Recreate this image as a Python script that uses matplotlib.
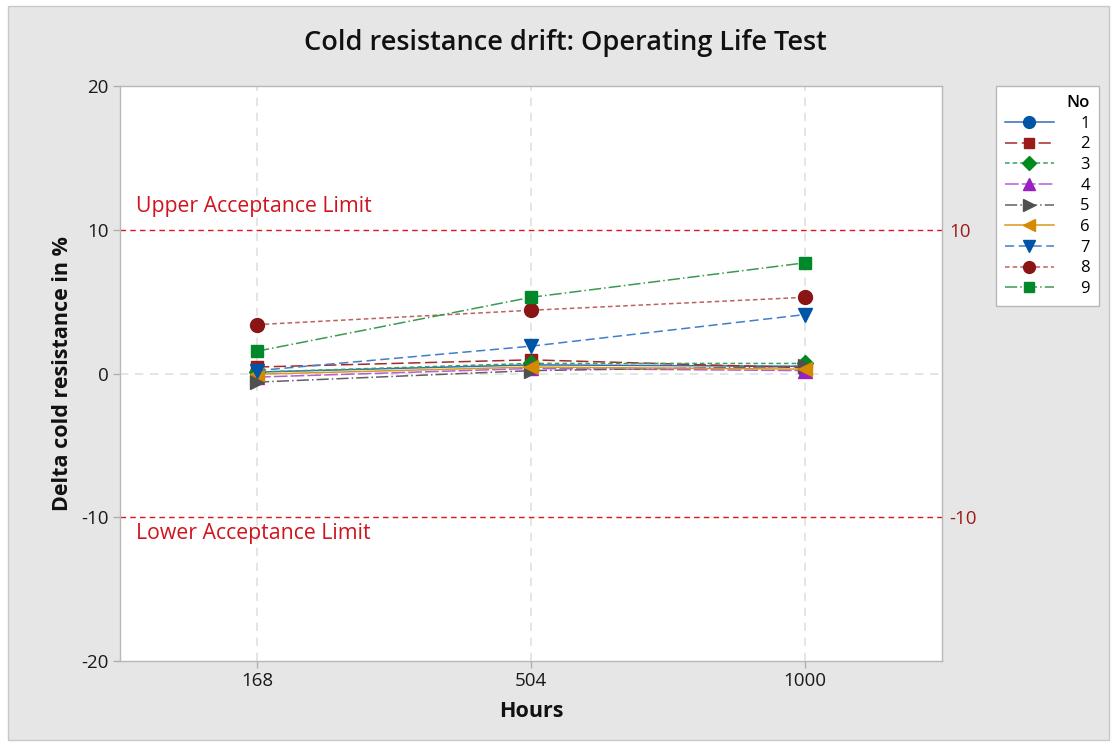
import matplotlib
matplotlib.use("Agg")
import matplotlib.pyplot as plt
from matplotlib.patches import Rectangle

plt.rcParams['font.family'] = ['Open Sans', 'DejaVu Sans']
plt.rcParams['axes.unicode_minus'] = False

hours = ["168", "504", "1000"]
series_ids = ["1", "2", "3", "4", "5", "6", "7", "8", "9"]
s1 = [0.1, 0.6, 0.5]
s2 = [0.45, 0.95, 0.4]
s3 = [0.1, 0.7, 0.7]
s4 = [-0.25, 0.35, 0.2]
s5 = [-0.6, 0.2, 0.5]
s6 = [-0.05, 0.45, 0.3]
s7 = [0.2, 1.9, 4.1]
s8 = [3.4, 4.4, 5.3]
s9 = [1.55, 5.3, 7.7]
values = [s1, s2, s3, s4, s5, s6, s7, s8, s9]

upper_limit = 10
lower_limit = -10

marker_colors = ["#0054A6", "#9B1B1B", "#008A1E", "#9A1FC4", "#505050",
                 "#D68A00", "#0054A6", "#8B1414", "#00882A"]
line_colors = ["#2F6DB5", "#A52A2A", "#3FA05A", "#B45FD6", "#606060",
               "#D9981F", "#3F7FC8", "#C06060", "#3A9A50"]
markers = ["o", "s", "D", "^", ">", "<", "v", "o", "s"]
msizes = [10, 9, 8, 10, 10, 10, 10, 10, 9]
styles = ["-", (0, (8, 3)), (0, (3, 2)), (0, (9, 2)), (0, (8, 2, 1, 2)),
          "-", (0, (6, 3)), (0, (3, 2)), (0, (8, 2, 1, 2))]

fig = plt.figure(figsize=(11.15, 7.46), dpi=100, facecolor="white")
W, H = 1115, 746
fig.patches.append(Rectangle((8 / W, 6 / H), (W - 14) / W, (H - 12) / H,
                             transform=fig.transFigure, facecolor="#E6E6E6",
                             edgecolor="#C8C8C8", lw=1.0, zorder=-10))

ax = fig.add_axes([120 / W, 1 - 661 / H, (942 - 120) / W, (661 - 86) / H])
ax.set_facecolor("white")
x = list(range(len(hours)))

for xi in x:
    ax.axvline(xi, color="#E0E0E0", lw=1.2, ls=(0, (5, 4)), zorder=0)
ax.axhline(0, color="#E0E0E0", lw=1.2, ls=(0, (5, 4)), zorder=0)
ax.axhline(upper_limit, color="#E0141E", lw=1.0, ls=(0, (4, 3)), zorder=1)
ax.axhline(lower_limit, color="#E0141E", lw=1.0, ls=(0, (4, 3)), zorder=1)

handles = []
for i, vals in enumerate(values):
    h, = ax.plot(x, vals, color=line_colors[i], ls=styles[i], lw=1.1,
                 marker=markers[i], markersize=msizes[i],
                 markerfacecolor=marker_colors[i], markeredgecolor=marker_colors[i],
                 label=series_ids[i], zorder=3)
    handles.append(h)

ax.set_xlim(-0.5, 2.5)
ax.set_ylim(-20, 20)
ax.set_xticks(x)
ax.set_xticklabels(hours)
ax.set_yticks([-20, -10, 0, 10, 20])
ax.tick_params(axis="both", labelsize=13.5, color="#B0B0B0", length=5, width=1,
               labelcolor="#1A1A1A", pad=3)
for sp in ax.spines.values():
    sp.set_color("#B8B8B8")
    sp.set_linewidth(1.0)

ax2 = ax.twinx()
ax2.set_ylim(-20, 20)
ax2.set_yticks([lower_limit, upper_limit])
ax2.set_yticklabels([str(lower_limit), str(upper_limit)])
ax2.tick_params(axis="y", length=0, labelsize=13.5, labelcolor="#9B1B1B", pad=5)
for sp in ax2.spines.values():
    sp.set_visible(False)

ax.text(0.02, 11.6, "Upper Acceptance Limit", color="#D0141E", fontsize=15.3,
        transform=ax.get_yaxis_transform(), va="center", ha="left")
ax.text(0.02, -11.1, "Lower Acceptance Limit", color="#D0141E", fontsize=15.3,
        transform=ax.get_yaxis_transform(), va="center", ha="left")

fig.text(565 / W, 1 - 43 / H, "Cold resistance drift: Operating Life Test",
         ha="center", va="center", fontsize=19.5, fontweight="semibold", color="#111111")
ax.set_xlabel("Hours", fontsize=15.5, fontweight="bold", labelpad=8, color="#111111")
ax.set_ylabel("Delta cold resistance in %", fontsize=15.5, fontweight="bold",
              labelpad=6, color="#111111")

leg = fig.legend(handles=handles, loc="upper left",
                 bbox_to_anchor=(996 / W, 1 - 86 / H), borderaxespad=0,
                 title="No", alignment="right", fontsize=12, title_fontsize=12,
                 frameon=True, fancybox=False, framealpha=1, handlelength=2.9,
                 labelspacing=0.28, borderpad=0.55, handletextpad=1.6,
                 markerscale=0.85)
leg.get_frame().set_edgecolor("#B8B8B8")
leg.get_frame().set_facecolor("white")
leg.get_frame().set_linewidth(1.0)
leg.get_title().set_fontweight("semibold")

fig.savefig("out.png", dpi=100, facecolor=fig.get_facecolor())
